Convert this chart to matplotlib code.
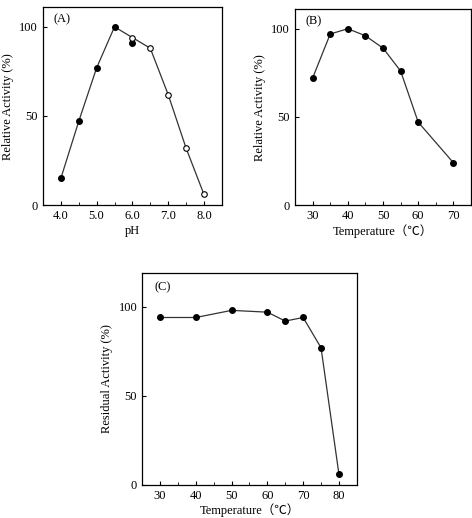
import matplotlib.pyplot as plt
from matplotlib.ticker import MultipleLocator

plt.rcParams['font.family'] = ['Liberation Serif', 'Noto Sans CJK JP', 'DejaVu Serif']
plt.rcParams['font.size'] = 9

# (A) pH profile
ph_filled = [4.0, 4.5, 5.0, 5.5, 6.0]
act_filled = [15, 47, 77, 100, 91]
ph_open = [6.0, 6.5, 7.0, 7.5, 8.0]
act_open = [94, 88, 62, 32, 6]

# (B) temperature profile
temp_b = [30, 35, 40, 45, 50, 55, 60, 70]
act_b = [72, 97, 100, 96, 89, 76, 47, 24]

# (C) thermal stability
temp_c = [30, 40, 50, 60, 65, 70, 75, 80]
act_c = [94, 94, 98, 97, 92, 94, 77, 6]

temp_label = 'Temperature（℃）'

fig = plt.figure(figsize=(4.72, 5.18), dpi=100)

def style(ax):
    ax.tick_params(direction='in', length=3, width=0.8, labelsize=9)
    ax.tick_params(which='minor', direction='in', length=2, width=0.6)
    for s in ax.spines.values():
        s.set_linewidth(0.9)
    ax.set_yticks([0, 50, 100])

ax1 = fig.add_axes([0.091, 0.604, 0.379, 0.382])
ax1.plot(ph_filled[:-1] + ph_open, act_filled[:-1] + act_open, color='#333333', lw=0.9, zorder=1)
ax1.plot(ph_filled, act_filled, 'o', color='black', ms=4, zorder=3)
ax1.plot(ph_open, act_open, 'o', mfc='white', mec='black', mew=0.8, ms=4, zorder=3)
ax1.set_xlim(3.5, 8.5)
ax1.set_ylim(0, 111)
ax1.set_xticks([4, 5, 6, 7, 8])
ax1.set_xticklabels(['4.0', '5.0', '6.0', '7.0', '8.0'])
ax1.xaxis.set_minor_locator(MultipleLocator(0.5))
ax1.set_xlabel('pH', labelpad=2)
ax1.set_ylabel('Relative Activity (%)')
ax1.text(0.06, 0.97, '(A)', transform=ax1.transAxes, va='top')
style(ax1)

ax2 = fig.add_axes([0.625, 0.604, 0.373, 0.378])
ax2.plot(temp_b, act_b, '-o', color='#333333', mfc='black', mec='black', lw=0.9, ms=4)
ax2.set_xlim(25, 75)
ax2.set_ylim(0, 111)
ax2.set_xticks([30, 40, 50, 60, 70])
ax2.xaxis.set_minor_locator(MultipleLocator(5))
ax2.set_xlabel(temp_label, labelpad=2)
ax2.set_ylabel('Relative Activity (%)')
ax2.text(0.06, 0.97, '(B)', transform=ax2.transAxes, va='top')
style(ax2)

ax3 = fig.add_axes([0.301, 0.064, 0.455, 0.409])
ax3.plot(temp_c, act_c, '-o', color='#333333', mfc='black', mec='black', lw=0.9, ms=4)
ax3.set_xlim(25, 85)
ax3.set_ylim(0, 119)
ax3.set_xticks([30, 40, 50, 60, 70, 80])
ax3.xaxis.set_minor_locator(MultipleLocator(5))
ax3.set_xlabel(temp_label, labelpad=1)
ax3.set_ylabel('Residual Activity (%)')
ax3.text(0.06, 0.96, '(C)', transform=ax3.transAxes, va='top')
style(ax3)

fig.savefig('out.png', dpi=100)
